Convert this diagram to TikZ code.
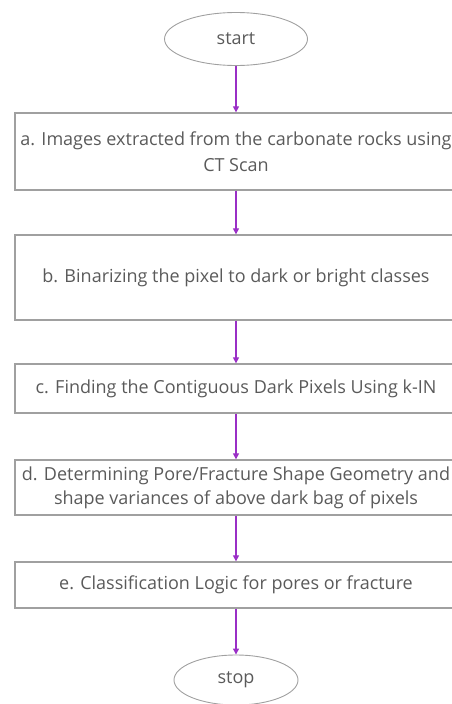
\documentclass[tikz,border=0pt]{standalone}
\usepackage{fontspec}
\setmainfont{Open Sans}
\usetikzlibrary{shapes.geometric,arrows.meta}
\definecolor{boxline}{HTML}{A0A0A0}
\definecolor{txt}{HTML}{5A5A5A}
\definecolor{arr}{HTML}{9A2FC6}
\begin{document}
\begin{tikzpicture}[x=1pt,y=1pt,
  every node/.style={font=\fontsize{18}{26}\selectfont, text=txt},
  term/.style={ellipse, draw=boxline, line width=0.9pt, inner sep=0pt},
  stepbox/.style={rectangle, draw=boxline, line width=1.3pt, minimum width=442pt, align=center, inner sep=0pt},
  flow/.style={draw=arr, line width=1.2pt, -{Triangle[length=6pt,width=6pt]}}]
\useasboundingbox (0,0) rectangle (452,-704);
\clip (0,0) rectangle (452,-704);
\node[term, minimum width=143pt, minimum height=53pt] (start) at (236,-39) {start};
\node[stepbox, minimum height=77pt] (a) at (236,-151.5) {a. Images extracted from the carbonate rocks using\\CT Scan};
\node[stepbox, minimum height=85pt] (b) at (236,-277.5) {b. Binarizing the pixel to dark or bright classes};
\node[stepbox, minimum height=49pt] (c) at (236,-388.5) {c. Finding the Contiguous Dark Pixels Using k-IN};
\node[stepbox, minimum height=55pt, font=\fontsize{18}{24}\selectfont] (d) at (236,-487.5) {d. Determining Pore/Fracture Shape Geometry and\\shape variances of above dark bag of pixels};
\node[stepbox, minimum height=46pt] (e) at (236,-585) {e. Classification Logic for pores or fracture};
\node[term, minimum width=124pt, minimum height=50pt] (stop) at (236,-680) {stop};
\draw[flow] (start) -- (a);
\draw[flow] (a) -- (b);
\draw[flow] (b) -- (c);
\draw[flow] (c) -- (d);
\draw[flow] (d) -- (e);
\draw[flow] (e) -- (stop);
\end{tikzpicture}
\end{document}
